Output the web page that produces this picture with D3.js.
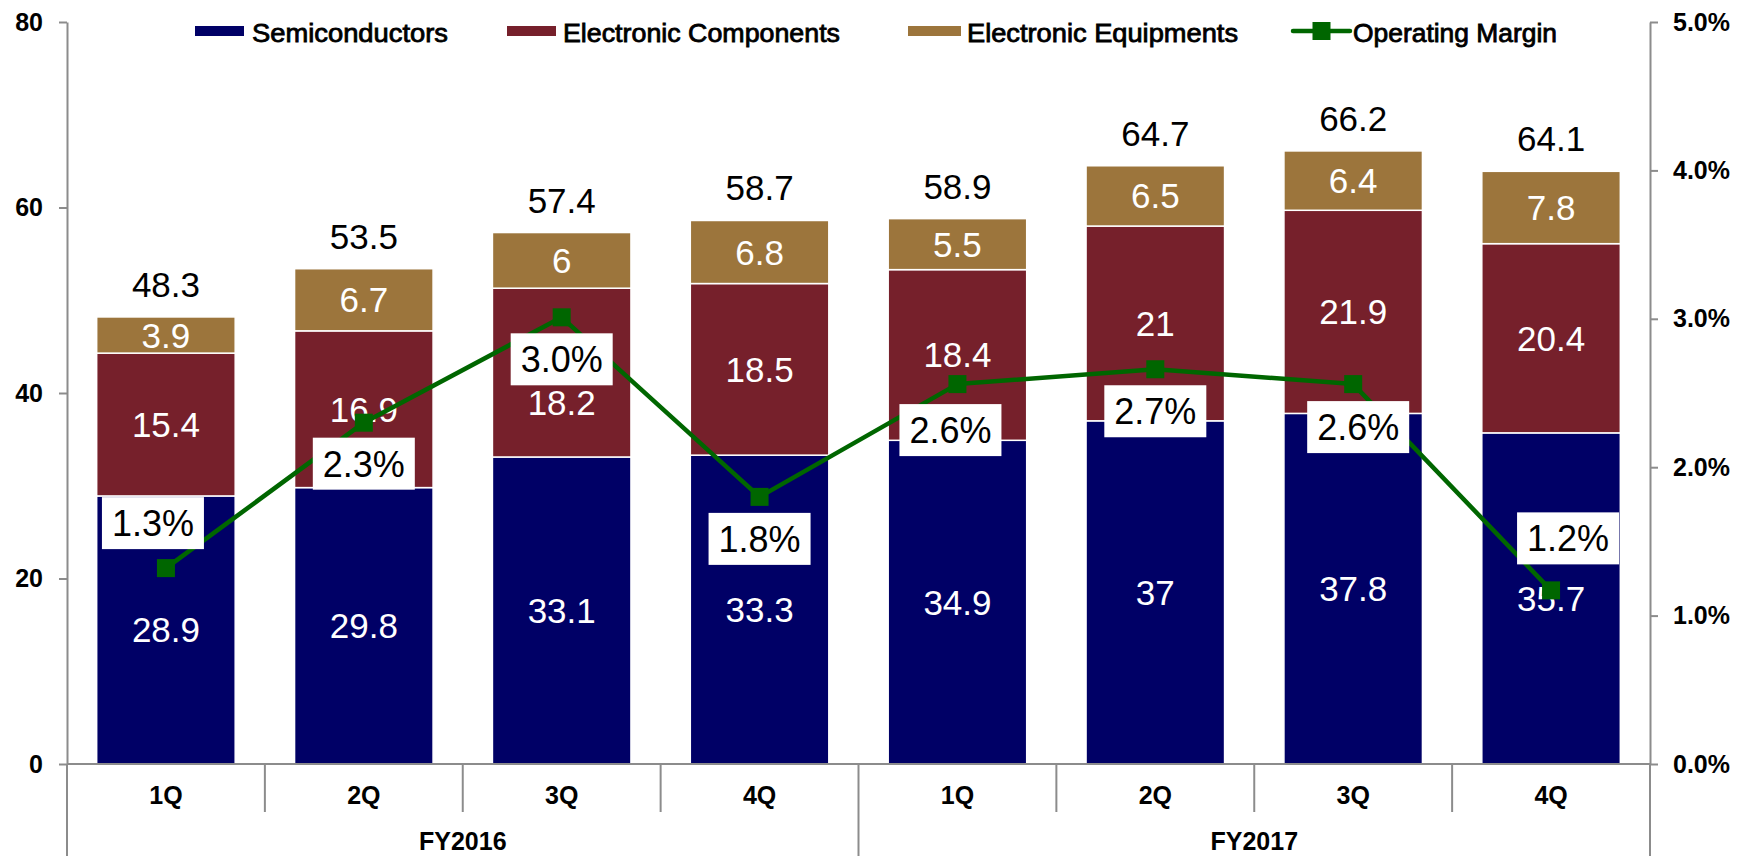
<!DOCTYPE html>
<html>
<head>
<meta charset="utf-8">
<script src="https://cdn.jsdelivr.net/npm/d3@7/dist/d3.min.js"></script>
<style>
  html, body { margin: 0; padding: 0; background: #fff; }
  svg { display: block; font-family: "Liberation Sans", Arial, sans-serif; }
</style>
</head>
<body>
<svg id="chart" width="1747" height="856"></svg>
<script>
// ---------------- DATA ----------------
const quarters = ["1Q", "2Q", "3Q", "4Q", "1Q", "2Q", "3Q", "4Q"];
const fiscalYears = ["FY2016", "FY2017"];
const semiconductors = [28.9, 29.8, 33.1, 33.3, 34.9, 37, 37.8, 35.7];
const electronicComponents = [15.4, 16.9, 18.2, 18.5, 18.4, 21, 21.9, 20.4];
const electronicEquipments = [3.9, 6.7, 6, 6.8, 5.5, 6.5, 6.4, 7.8];
const totals = [48.3, 53.5, 57.4, 58.7, 58.9, 64.7, 66.2, 64.1];
const operatingMargin = [1.32, 2.30, 3.01, 1.80, 2.56, 2.66, 2.56, 1.17];
const marginLabels = ["1.3%", "2.3%", "3.0%", "1.8%", "2.6%", "2.7%", "2.6%", "1.2%"];
const seriesNames = ["Semiconductors", "Electronic Components", "Electronic Equipments", "Operating Margin"];
const leftTicks = [0, 20, 40, 60, 80];
const rightTicks = [0, 1, 2, 3, 4, 5];

// ---------------- LAYOUT ----------------
const colors = ["#000066", "#76202B", "#9C753C"];
const lineColor = "#006600";
const axisColor = "#8c8c8c";
const plot = { left: 67, right: 1650, top: 22, bottom: 764 };
// manual label offsets (dx, dy) for margin labels, relative to the point
const marginLabelOffsets = [[-13, -45], [0, 41], [0, 42], [0, 42], [-7, 46], [0, 42], [5, 43], [17, -52]];
// manual vertical shifts for some segment labels: key "layer-index"
const segmentLabelShift = { "1-2": 30 };

const svg = d3.select("#chart");

const x = d3.scaleBand()
  .domain(d3.range(quarters.length))
  .range([plot.left, plot.right])
  .paddingInner(0.3)
  .paddingOuter(0.15);
const yL = d3.scaleLinear().domain([0, 80]).range([plot.bottom, plot.top]);
const yR = d3.scaleLinear().domain([0, 5]).range([plot.bottom, plot.top]);

// stacked data
const rows = quarters.map((q, i) => ({
  i,
  s0: semiconductors[i], s1: electronicComponents[i], s2: electronicEquipments[i]
}));
const stack = d3.stack().keys(["s0", "s1", "s2"]);
const layers = stack(rows);

// bars
const gBars = svg.append("g");
layers.forEach((layer, k) => {
  gBars.selectAll(null)
    .data(layer)
    .join("rect")
    .attr("x", d => x(d.data.i))
    .attr("width", x.bandwidth())
    .attr("y", d => yL(d[1]))
    .attr("height", d => yL(d[0]) - yL(d[1]))
    .attr("fill", colors[k])
    .attr("stroke", "#ffffff")
    .attr("stroke-width", 1.5);
});

// segment labels
layers.forEach((layer, k) => {
  gBars.selectAll(null)
    .data(layer)
    .join("text")
    .attr("x", d => x(d.data.i) + x.bandwidth() / 2)
    .attr("y", d => (yL(d[0]) + yL(d[1])) / 2 + 12.5 + (segmentLabelShift[k + "-" + d.data.i] || 0))
    .attr("text-anchor", "middle")
    .attr("fill", "#ffffff")
    .attr("font-size", 35)
    .text(d => d.data["s" + k]);
});

// total labels
svg.append("g").selectAll("text")
  .data(totals)
  .join("text")
  .attr("x", (d, i) => x(i) + x.bandwidth() / 2)
  .attr("y", (d, i) => yL(layers[2][i][1]) - 20)
  .attr("text-anchor", "middle")
  .attr("fill", "#000")
  .attr("font-size", 35)
  .text(d => d);

// axes
const leftAxis = svg.append("g")
  .attr("transform", `translate(${plot.left},0)`)
  .call(d3.axisLeft(yL).tickValues(leftTicks).tickSize(8).tickSizeOuter(0).tickPadding(16));
const rightAxis = svg.append("g")
  .attr("transform", `translate(${plot.right},0)`)
  .call(d3.axisRight(yR).tickValues(rightTicks).tickSize(8).tickSizeOuter(0).tickPadding(15)
    .tickFormat(d => d.toFixed(1) + "%"));
[leftAxis, rightAxis].forEach(a => {
  a.select(".domain").attr("stroke", axisColor).attr("stroke-width", 2);
  a.selectAll(".tick line").attr("stroke", axisColor).attr("stroke-width", 2);
  a.selectAll(".tick text")
    .attr("font-family", "'Liberation Sans', Arial, sans-serif")
    .attr("font-size", 25).attr("font-weight", "bold").attr("fill", "#000");
});

// category axis
const gCat = svg.append("g");
gCat.append("line")
  .attr("x1", plot.left).attr("x2", plot.right)
  .attr("y1", plot.bottom).attr("y2", plot.bottom)
  .attr("stroke", axisColor).attr("stroke-width", 2);
const step = x.step();
d3.range(quarters.length + 1).forEach(k => {
  const xx = plot.left + k * step;
  const long = (k % 4 === 0);
  gCat.append("line")
    .attr("x1", xx).attr("x2", xx)
    .attr("y1", plot.bottom).attr("y2", long ? 856 : 812)
    .attr("stroke", axisColor).attr("stroke-width", 2);
});
gCat.selectAll("text.q")
  .data(quarters)
  .join("text")
  .attr("class", "q")
  .attr("x", (d, i) => x(i) + x.bandwidth() / 2)
  .attr("y", 804)
  .attr("text-anchor", "middle")
  .attr("font-size", 25).attr("font-weight", "bold").attr("fill", "#000")
  .text(d => d);
gCat.selectAll("text.fy")
  .data(fiscalYears)
  .join("text")
  .attr("class", "fy")
  .attr("x", (d, j) => plot.left + (j * 4 + 2) * step)
  .attr("y", 850)
  .attr("text-anchor", "middle")
  .attr("font-size", 25).attr("font-weight", "bold").attr("fill", "#000")
  .text(d => d);

// operating margin line
const line = d3.line()
  .x((d, i) => x(i) + x.bandwidth() / 2)
  .y(d => yR(d));
svg.append("path")
  .datum(operatingMargin)
  .attr("d", line)
  .attr("fill", "none")
  .attr("stroke", lineColor)
  .attr("stroke-width", 4.5)
  .attr("stroke-linejoin", "round");
svg.append("g").selectAll("rect")
  .data(operatingMargin)
  .join("rect")
  .attr("x", (d, i) => x(i) + x.bandwidth() / 2 - 9)
  .attr("y", d => yR(d) - 9)
  .attr("width", 18).attr("height", 18)
  .attr("fill", lineColor);

// margin labels
const gML = svg.append("g");
operatingMargin.forEach((d, i) => {
  const cx = x(i) + x.bandwidth() / 2 + marginLabelOffsets[i][0];
  const cy = yR(d) + marginLabelOffsets[i][1];
  gML.append("rect")
    .attr("x", cx - 51).attr("y", cy - 26)
    .attr("width", 102).attr("height", 52)
    .attr("fill", "#ffffff");
  gML.append("text")
    .attr("x", cx).attr("y", cy + 13)
    .attr("text-anchor", "middle")
    .attr("font-size", 36).attr("fill", "#000")
    .text(marginLabels[i]);
});

// legend
const legendItems = [
  { sw: [195, 244], tx: 252, tw: 196 },
  { sw: [507, 556], tx: 563, tw: 277 },
  { sw: [908, 961], tx: 967, tw: 271 },
  { sw: [1293, 1350], tx: 1353, tw: 204 }
];
const gLeg = svg.append("g");
seriesNames.forEach((name, k) => {
  const it = legendItems[k];
  if (k < 3) {
    gLeg.append("rect")
      .attr("x", it.sw[0]).attr("y", 26)
      .attr("width", it.sw[1] - it.sw[0]).attr("height", 10)
      .attr("fill", colors[k]);
  } else {
    gLeg.append("line")
      .attr("x1", it.sw[0]).attr("x2", it.sw[1])
      .attr("y1", 31).attr("y2", 31)
      .attr("stroke", lineColor).attr("stroke-width", 4.5)
      .attr("stroke-linecap", "round");
    gLeg.append("rect")
      .attr("x", (it.sw[0] + it.sw[1]) / 2 - 9).attr("y", 22)
      .attr("width", 18).attr("height", 18)
      .attr("fill", lineColor);
  }
  gLeg.append("text")
    .attr("x", it.tx).attr("y", 42)
    .attr("font-size", 25)
    .attr("fill", "#000")
    .attr("stroke", "#000").attr("stroke-width", 0.8)
    .attr("textLength", it.tw)
    .attr("lengthAdjust", "spacingAndGlyphs")
    .text(name);
});
</script>
</body>
</html>
